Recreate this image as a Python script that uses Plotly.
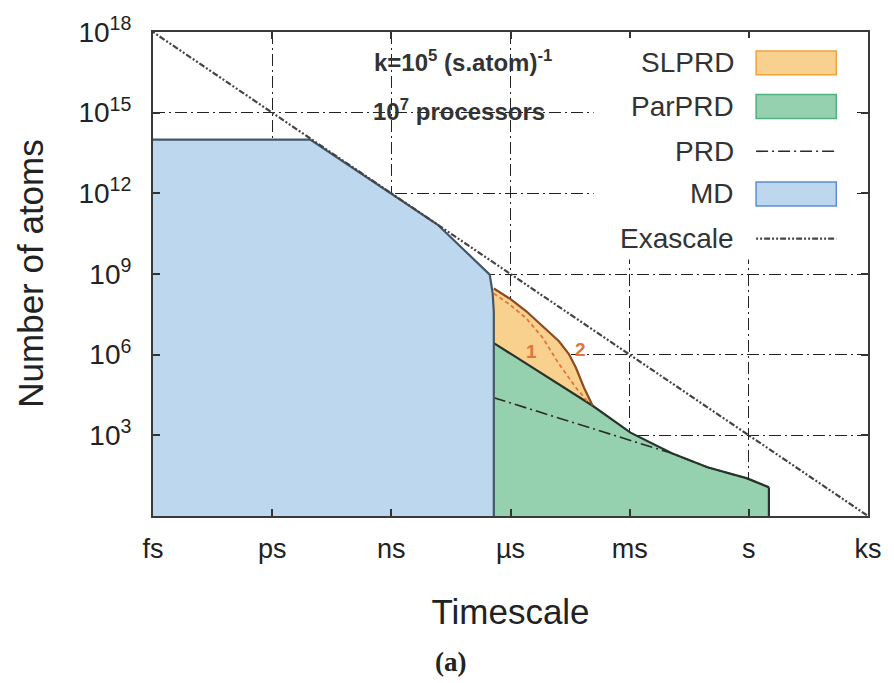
import plotly.graph_objects as go

# ---------------- data (time in s, number of atoms) ----------------
md_t = [1e-15, 1e-15, 9.1e-12, 1.45e-8, 3.0e-7, 3.55e-7, 3.8e-7, 3.8e-7]
md_n = [1, 1e14, 1e14, 6.9e10, 9.5e8, 2.0e8, 4.0e7, 1]

parprd_t = [3.8e-7, 3.8e-7, 1.17e-4, 1.05e-3, 1.15e-2, 9.1e-2, 0.91, 3.2, 3.2]
parprd_n = [1, 2.7e6, 1.26e4, 1.26e3, 214, 65, 25, 11.7, 1]

prd_t = [3.8e-7, 1.15e-2, 9.1e-2, 0.91, 3.2]
prd_n = [2.5e4, 214, 65, 25, 11.7]

slprd2_t = [3.8e-7, 9.5e-7, 2.5e-6, 6.6e-6, 1.66e-5, 2.95e-5, 4.47e-5, 7.1e-5, 1.17e-4]
slprd2_n = [2.9e8, 1.23e8, 4.1e7, 1.15e7, 3.16e6, 1.05e6, 3.2e5, 5.9e4, 1.26e4]

slprd1_t = [3.8e-7, 9.5e-7, 2.5e-6, 6.6e-6, 1.66e-5, 4.47e-5, 9.3e-5]
slprd1_n = [1.9e8, 7.4e7, 2.24e7, 4.1e6, 4.5e5, 5.9e4, 1.62e4]

exa_t = [1e-15, 1e3]
exa_n = [1e18, 1]

x_tickvals = [1e-15, 1e-12, 1e-9, 1e-6, 1e-3, 1, 1e3]
x_ticktext = ["fs", "ps", "ns", "µs", "ms", "s", "ks"]
y_exponents = [3, 6, 9, 12, 15, 18]

legend_names = ["SLPRD", "ParPRD", "PRD", "MD", "Exascale"]

# ---------------- styles ----------------
MD_FILL, MD_EDGE, MD_LEG = "#bdd7ee", "#46566a", "#5b8fd0"
GR_FILL, GR_EDGE, GR_LEG = "#95d1ae", "#26352b", "#4fb27c"
OR_FILL, OR_EDGE, OR_LEG = "#f9d18f", "#8f4a1e", "#f0a43a"
OR_TXT = "#e2743a"
INK = "#2b2b2b"
EXA_DASH = "2px,2px,2px,2px,6px,2px"
GRID_DASH = "12px,4px,2px,4px"
FONT = "Liberation Sans, Arial, sans-serif"

L, R, T, B = 153, 875, 29, 516
W, H = 894, 683


def pxx(x):
    return (x - L) / (R - L)


def pxy(y):
    return (B - y) / (B - T)


fig = go.Figure()

# fills
fig.add_trace(go.Scatter(x=md_t, y=md_n, fill="toself", fillcolor=MD_FILL,
                         mode="lines", line=dict(width=0), showlegend=False,
                         hoverinfo="skip"))
fig.add_trace(go.Scatter(x=parprd_t, y=parprd_n, fill="toself", fillcolor=GR_FILL,
                         mode="lines", line=dict(width=0), showlegend=False,
                         hoverinfo="skip"))
fig.add_trace(go.Scatter(x=slprd2_t + [parprd_t[1]], y=slprd2_n + [parprd_n[1]],
                         fill="toself", fillcolor=OR_FILL, mode="lines",
                         line=dict(width=0), showlegend=False, hoverinfo="skip"))

# lines
fig.add_trace(go.Scatter(x=prd_t, y=prd_n, mode="lines",
                         line=dict(color=INK, width=1.6, dash=GRID_DASH),
                         showlegend=False))
fig.add_trace(go.Scatter(x=parprd_t[1:-1], y=parprd_n[1:-1], mode="lines",
                         line=dict(color=GR_EDGE, width=2.2), showlegend=False))
fig.add_trace(go.Scatter(x=parprd_t[-2:], y=parprd_n[-2:], mode="lines",
                         line=dict(color=GR_EDGE, width=2.2), showlegend=False))
fig.add_trace(go.Scatter(x=slprd1_t, y=slprd1_n, mode="lines",
                         line=dict(color=OR_TXT, width=1.8, dash="4px,3px"),
                         showlegend=False))
fig.add_trace(go.Scatter(x=slprd2_t, y=slprd2_n, mode="lines",
                         line=dict(color=OR_EDGE, width=2.2), showlegend=False))
fig.add_trace(go.Scatter(x=md_t[1:], y=md_n[1:], mode="lines",
                         line=dict(color=MD_EDGE, width=2.2), showlegend=False))
fig.add_trace(go.Scatter(x=exa_t, y=exa_n, mode="lines",
                         line=dict(color="#444444", width=2.2, dash=EXA_DASH),
                         showlegend=False))

# ---------------- legend (gnuplot style: text left, sample right) ----------------
shapes = [dict(type="rect", xref="paper", yref="paper",
               x0=pxx(598), x1=pxx(862), y0=pxy(258), y1=pxy(35),
               fillcolor="white", line=dict(width=0), layer="above")]
annotations = []
row_y = [60, 104, 149, 192, 237]
sx0, sx1 = 762, 843
for name, yy in zip(legend_names, row_y):
    annotations.append(dict(text=name, xref="paper", yref="paper", x=pxx(742),
                            y=pxy(yy), xanchor="right", yanchor="middle",
                            showarrow=False, font=dict(size=28, color="#333333",
                                                       family=FONT)))
box_styles = {"SLPRD": (OR_FILL, OR_LEG), "ParPRD": (GR_FILL, GR_LEG),
              "MD": (MD_FILL, MD_LEG)}
for name, yy in zip(legend_names, row_y):
    if name in box_styles:
        fc, lc = box_styles[name]
        shapes.append(dict(type="rect", xref="paper", yref="paper",
                           x0=pxx(sx0), x1=pxx(sx1), y0=pxy(yy + 12), y1=pxy(yy - 12),
                           fillcolor=fc, line=dict(color=lc, width=1.5), layer="above"))
    elif name == "PRD":
        shapes.append(dict(type="line", xref="paper", yref="paper",
                           x0=pxx(sx0), x1=pxx(sx1), y0=pxy(yy), y1=pxy(yy),
                           line=dict(color=INK, width=1.6, dash=GRID_DASH),
                           layer="above"))
    else:
        shapes.append(dict(type="line", xref="paper", yref="paper",
                           x0=pxx(sx0), x1=pxx(sx1), y0=pxy(yy), y1=pxy(yy),
                           line=dict(color="#444444", width=2.2, dash=EXA_DASH),
                           layer="above"))

# text annotations
annotations += [
    dict(text="<b>k=10<sup>5</sup> (s.atom)<sup>-1</sup></b>", xref="paper",
         yref="paper", x=pxx(466), y=pxy(58), showarrow=False,
         xanchor="center", yanchor="middle",
         font=dict(size=24, color="#333333", family=FONT)),
    dict(text="<b>10<sup>7</sup> processors</b>", xref="paper", yref="paper",
         x=pxx(462), y=pxy(107), showarrow=False, xanchor="center", yanchor="middle",
         font=dict(size=24, color="#333333", family=FONT)),
    dict(text="<b>1</b>", xref="x", yref="y", x=-5.48, y=6.13, showarrow=False,
         font=dict(size=19, color=OR_TXT, family=FONT)),
    dict(text="<b>2</b>", xref="x", yref="y", x=-4.25, y=6.21, showarrow=False,
         font=dict(size=19, color=OR_TXT, family=FONT)),
    dict(text="Number of atoms", xref="paper", yref="paper", x=pxx(29),
         y=pxy(272), textangle=-90, showarrow=False, xanchor="center",
         yanchor="middle", font=dict(size=35, color="#222222", family=FONT)),
    dict(text="<b>(a)</b>", xref="paper", yref="paper", x=pxx(453), y=pxy(663),
         showarrow=False, xanchor="center", yanchor="middle",
         font=dict(size=27, color="#222222",
                   family="Liberation Serif, DejaVu Serif, serif")),
]

grid_style = dict(showgrid=True, gridcolor="#222222", gridwidth=1.4,
                  griddash=GRID_DASH)

fig.update_layout(
    width=W, height=H, autosize=False,
    margin=dict(l=L, r=W - R, t=T, b=H - B),
    plot_bgcolor="white", paper_bgcolor="white",
    font=dict(family=FONT, color="#222222"),
    showlegend=False,
    shapes=shapes, annotations=annotations,
    xaxis=dict(type="log", range=[-15, 3], tickvals=x_tickvals, ticktext=x_ticktext,
               ticks="inside", ticklen=7, tickcolor="#333333", tickwidth=1.5,
               showline=True, linecolor="#3a3a3a", linewidth=2, mirror="ticks",
               tickfont=dict(size=27), zeroline=False, ticklabelstandoff=8,
               title=dict(text="Timescale", font=dict(size=35), standoff=36),
               **grid_style),
    yaxis=dict(type="log", range=[0, 18], tickvals=[10 ** e for e in y_exponents],
               ticktext=[f"10<sup>{e}</sup>" for e in y_exponents],
               ticks="inside", ticklen=7, tickcolor="#333333", tickwidth=1.5,
               showline=True, linecolor="#3a3a3a", linewidth=2, mirror="ticks",
               tickfont=dict(size=28), zeroline=False, ticklabelstandoff=14,
               **grid_style),
)

fig.write_html("out.html")
